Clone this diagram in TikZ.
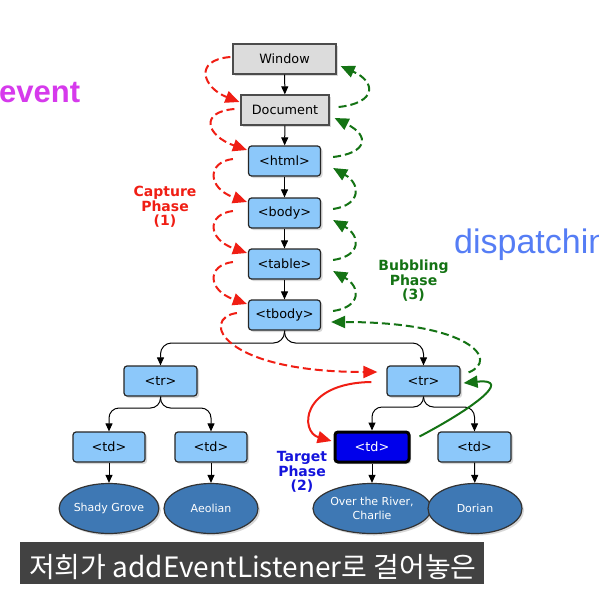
\documentclass[tikz,border=0pt]{standalone}
\usepackage{fontspec}
\setmainfont{DejaVu Sans}
\newfontfamily\lib{Liberation Sans}
\newfontfamily\kr{Noto Sans CJK KR}
\usetikzlibrary{arrows.meta,shadows,shapes.geometric}
\definecolor{boxblue}{RGB}{140,200,250}
\definecolor{boxgray}{RGB}{220,220,220}
\definecolor{ellblue}{RGB}{62,120,180}
\definecolor{tgtblue}{RGB}{0,0,235}
\definecolor{capred}{RGB}{240,30,20}
\definecolor{bubgreen}{RGB}{20,115,20}
\definecolor{tgttext}{RGB}{20,20,220}
\definecolor{evmag}{RGB}{214,58,236}
\definecolor{dispblue}{RGB}{85,125,245}
\definecolor{barbg}{RGB}{66,66,66}
\tikzset{
  shad/.style={drop shadow={shadow xshift=2pt,shadow yshift=-2pt,opacity=.3}},
  gbox/.style={draw=black!70,fill=boxgray,line width=1.2pt,minimum height=30pt,
    font=\fontsize{12.8}{14}\selectfont,shad},
  bbox/.style={draw=black!85,fill=boxblue,rounded corners=3pt,line width=1.2pt,
    minimum width=72pt,minimum height=30pt,font=\fontsize{12.8}{14}\selectfont,shad},
  tbox/.style={bbox,fill=tgtblue,draw=black,line width=3pt,text=white},
  ell/.style={ellipse,draw=black!80,fill=ellblue,line width=1.2pt,minimum width=93pt,
    minimum height=50pt,inner sep=0pt,text=white,font=\fontsize{11}{14}\selectfont,align=center,shad},
  tree/.style={-{Triangle[length=8pt,width=7pt]},line width=1pt,black},
  capt/.style={capred,line width=2pt,dash pattern=on 8pt off 4pt,-{Triangle[length=14pt,width=12pt]}},
  bubl/.style={bubgreen,line width=2pt,dash pattern=on 8pt off 4pt,-{Triangle[length=14pt,width=12pt]}},
  capsolid/.style={capred,line width=2pt,-{Triangle[length=14pt,width=12pt]}},
  bubsolid/.style={bubgreen,line width=2pt,-{Triangle[length=14pt,width=12pt]}},
  phase/.style={font=\bfseries\fontsize{14}{14.5}\selectfont,align=center}
}
\begin{document}
\begin{tikzpicture}[x=1pt,y=-1pt]
\useasboundingbox (0,0) rectangle (599,597);
\clip (0,0) rectangle (599,597);
\fill[white] (0,0) rectangle (599,597);

% big titles
\node[anchor=base west,inner sep=0pt,text=evmag,font=\lib\bfseries\fontsize{31}{31}\selectfont] (ev) at (-1,102.5) {event};
\node[anchor=base west,inner sep=0pt,text=dispblue,font=\lib\fontsize{34}{34}\selectfont] (disp) at (454,253) {dispatching};

% nodes
\node[gbox,minimum width=103pt] (win) at (284.5,59) {Window};
\node[gbox,minimum width=88pt] (doc) at (285,110) {Document};
\node[bbox] (html) at (284.5,161) {<html>};
\node[bbox] (body) at (284.5,213) {<body>};
\node[bbox] (table) at (284.5,264) {<table>};
\node[bbox] (tbody) at (284.5,315) {<tbody>};
\node[bbox,minimum width=73pt] (ltr) at (160.5,381) {<tr>};
\node[bbox,minimum width=73pt] (rtr) at (423.5,381) {<tr>};
\node[bbox] (ltda) at (109,447) {<td>};
\node[bbox] (ltdb) at (211,447) {<td>};
\node[tbox,minimum width=74pt] (tgt) at (372,447) {<td>};
\node[bbox,minimum width=73pt] (rtd) at (474.5,447) {<td>};
\node[ell] (ea) at (109,508.5) {Shady Grove};
\node[ell,minimum width=94pt] (eb) at (211,508.5) {Aeolian};
\node[ell,minimum width=92pt] (ec) at (372,508.5) {Over the River,\\Charlie};
\node[ell,minimum width=94pt] (ed) at (475,508.5) {Dorian};

% tree connectors
\draw[tree] (win) -- (doc);
\draw[tree] (doc) -- (html);
\draw[tree] (html) -- (body);
\draw[tree] (body) -- (table);
\draw[tree] (table) -- (tbody);
\draw[tree,rounded corners=11pt] (tbody.south) -- (284.5,343) -- (160.5,343) -- (ltr.north);
\draw[tree,rounded corners=11pt] (tbody.south) -- (284.5,343) -- (423.5,343) -- (rtr.north);
\draw[tree,rounded corners=10pt] (ltr.south) -- (160.5,408) -- (109,408) -- (ltda.north);
\draw[tree,rounded corners=10pt] (ltr.south) -- (160.5,408) -- (211,408) -- (ltdb.north);
\draw[tree,rounded corners=10pt] (rtr.south) -- (423.5,407) -- (372,407) -- (tgt.north);
\draw[tree,rounded corners=10pt] (rtr.south) -- (423.5,407) -- (474.5,407) -- (rtd.north);
\draw[tree] (ltda) -- (ea);
\draw[tree] (ltdb) -- (eb);
\draw[tree] (tgt) -- (ec);
\draw[tree] (rtd) -- (ed);

% capture phase (red dashed)
\draw[capt] ([shift={(-2,-2)}]win.west) .. controls +(-38,3) and +(-36,-14) .. ([shift={(-1,-8)}]doc.west);
\draw[capt] ([shift={(-6,-1)}]doc.west) .. controls +(-36,3) and +(-40,-14) .. ([shift={(-1,-11)}]html.west);
\draw[capt] ([shift={(-15,-2)}]html.west) .. controls +(-26,3) and +(-40,-14) .. ([shift={(-1,-11)}]body.west);
\draw[capt] ([shift={(-15,-2)}]body.west) .. controls +(-26,3) and +(-40,-14) .. ([shift={(-1,-11)}]table.west);
\draw[capt] ([shift={(-15,-2)}]table.west) .. controls +(-26,3) and +(-40,-14) .. ([shift={(-1,-11)}]tbody.west);
\draw[capt] ([shift={(-11,-2)}]tbody.west) .. controls (200,318) and (220,372) .. ([shift={(-9,-9)}]rtr.west);

% bubbling phase (green dashed)
\draw[bubl] ([shift={(9,-3)}]doc.east) .. controls +(38,-4) and +(36,16) .. ([shift={(4,7)}]win.east);
\draw[bubl] ([shift={(12,-4)}]html.east) .. controls +(34,-4) and +(36,18) .. ([shift={(5,8)}]doc.east);
\draw[bubl] ([shift={(12,-4)}]body.east) .. controls +(28,-4) and +(28,16) .. ([shift={(12,7)}]html.east);
\draw[bubl] ([shift={(12,-4)}]table.east) .. controls +(28,-4) and +(28,16) .. ([shift={(12,7)}]body.east);
\draw[bubl] ([shift={(12,-4)}]tbody.east) .. controls +(28,-4) and +(28,16) .. ([shift={(12,7)}]table.east);
\draw[bubl] ([shift={(8,7)}]rtr.north east) .. controls (500,360) and (470,322) .. ([shift={(10,7)}]tbody.east);

% target phase (solid)
\draw[capsolid] ([shift={(-15,1)}]rtr.west) .. controls (300,383) and (300,432) .. ([shift={(-2,-6)}]tgt.west);
\draw[bubsolid] ([shift={(9,6)}]tgt.north east) .. controls (470,410) and (515,378) .. ([shift={(3,2)}]rtr.east);

% phase labels
\node[phase,text=capred] (cap) at (165,207) {Capture\\Phase\\(1)};
\node[phase,text=bubgreen] (bub) at (413.5,281) {Bubbling\\Phase\\(3)};
\node[phase,text=tgttext] (tph) at (302,472) {Target\\Phase\\(2)};

% subtitle
\node[fill=barbg,minimum width=464pt,minimum height=42pt,inner sep=0pt] (bar) at (252,563) {};
\node[anchor=base west,inner sep=0pt,text=white,font=\kr\fontsize{28}{28}\selectfont] (sub) at (29,577) {저희가 addEventListener로 걸어놓은};
\end{tikzpicture}
\end{document}
